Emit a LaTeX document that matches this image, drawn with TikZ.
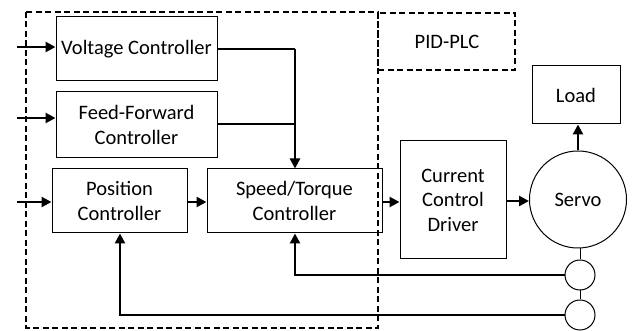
\documentclass[tikz,border=0pt]{standalone}
\usepackage{fontspec}
\setmainfont{Carlito}
\usetikzlibrary{arrows.meta}
\begin{document}
\begin{tikzpicture}[x=1pt,y=-1pt,
  blk/.style={draw,line width=1pt,inner sep=0pt,align=center,font=\fontsize{20.5}{24.5}\selectfont},
  flow/.style={line width=2.8pt,-{Triangle[length=10pt,width=10pt]}},
  feed/.style={line width=2.8pt},
  grp/.style={draw,line width=1.8pt,dash pattern=on 6pt off 3.5pt},
  sense/.style={draw,circle,line width=1pt,minimum size=30pt,inner sep=0pt}]
\useasboundingbox (0,0) rectangle (633,331);
% controller group and PLC label box
\draw[grp] (26,12) rectangle (378,328);
\draw[grp] (378,13) rectangle (515,70);
\node[font=\fontsize{20.5}{24.5}\selectfont] (plc) at (447,42) {PID-PLC};
% blocks
\node[blk,minimum width=161pt,minimum height=64pt] (volt) at (136.5,49) {Voltage Controller};
\node[blk,minimum width=161pt,minimum height=66pt] (ff) at (136.5,125) {Feed-Forward\\Controller};
\node[blk,minimum width=135pt,minimum height=64pt] (pos) at (119.5,201) {Position\\Controller};
\node[blk,minimum width=175pt,minimum height=64pt] (spd) at (294.5,201) {Speed/Torque\\Controller};
\node[blk,minimum width=106pt,minimum height=118pt] (drv) at (453,200) {Current\\Control\\Driver};
\node[blk,circle,minimum size=97pt] (servo) at (578,199.5) {Servo};
\node[blk,minimum width=88pt,minimum height=58pt] (load) at (576,95) {Load};
\node[sense] (s1) at (580,275) {};
\node[sense] (s2) at (580,315) {};
% external inputs
\coordinate (in1) at (17,47);
\coordinate (in2) at (17,118);
\coordinate (in3) at (17,202);
\draw[flow] (in1) -- (in1 -| volt.west);
\draw[flow] (in2) -- (in2 -| ff.west);
\draw[flow] (in3) -- (in3 -| pos.west);
% merge into speed/torque controller
\coordinate (jn) at (295,49);
\draw[feed] (volt.east |- jn) -- (jn);
\draw[feed] (ff.east |- 0,124) -- (295,124);
\draw[flow] (jn) -- (jn |- spd.north);
% forward path
\draw[flow] (pos.east |- 0,202) -- (spd.west |- 0,202);
\draw[flow] (spd.east |- 0,202) -- (drv.west |- 0,202);
\draw[flow] (drv.east |- 0,201) -- (servo.west |- 0,201);
\draw[flow] (servo.north) -- (load.south -| servo.north);
% sensors on the shaft
\draw[line width=1pt] (servo.south -| s1.north) -- (s1.north);
\draw[line width=1pt] (s1.south) -- (s2.north);
% feedback paths
\draw[flow] (s1.west) -- (295,275) -- (295,233 |- spd.south);
\draw[flow] (s2.west) -- (120,315) -- (120,233 |- pos.south);
\end{tikzpicture}
\end{document}
